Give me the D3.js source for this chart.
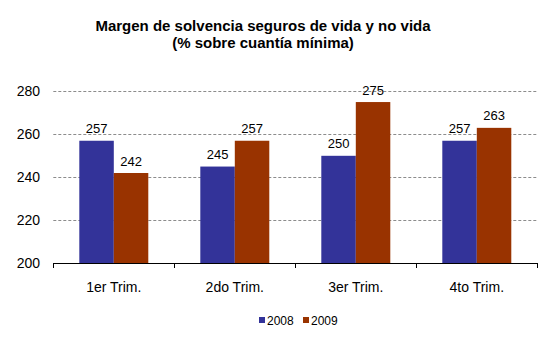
<!DOCTYPE html>
<html><head><meta charset="utf-8">
<script src="https://cdn.jsdelivr.net/npm/d3@7"></script>
<style>body{margin:0;background:#fff}svg{display:block;font-family:"Liberation Sans",Arial,sans-serif}</style>
</head><body><svg id="c" width="553" height="338"></svg>
<script>
const categories = ["1er Trim.", "2do Trim.", "3er Trim.", "4to Trim."];
const seriesNames = ["2008", "2009"];
const values2008 = [257, 245, 250, 257];
const values2009 = [242, 257, 275, 263];
const yTicks = [200, 220, 240, 260, 280];
const colors = ["#333399", "#993300"];

(function(){
const svg = d3.select("#c");
const mLeft = 53.3, mRight = 537.3, mTop = 91.3, mBottom = 263.3;
const x = d3.scaleBand().domain(categories).range([mLeft, mRight]).paddingInner(0).paddingOuter(0);
const y = d3.scaleLinear().domain([200, 280]).range([mBottom, mTop]);
const inner = d3.scaleBand().domain(seriesNames).range([0, x.bandwidth()]).paddingOuter(0.754).paddingInner(0);

// title
svg.append("text").attr("x", 263).attr("y", 31).attr("text-anchor", "middle")
  .attr("font-weight", "bold").attr("font-size", 15).text("Margen de solvencia seguros de vida y no vida");
svg.append("text").attr("x", 263).attr("y", 48).attr("text-anchor", "middle")
  .attr("font-weight", "bold").attr("font-size", 15).text("(% sobre cuantía mínima)");

// grid
svg.append("g").selectAll("line").data(yTicks.filter(d => d > 200)).join("line")
  .attr("x1", mLeft).attr("x2", mRight).attr("y1", d => Math.round(y(d)) + 0.5).attr("y2", d => Math.round(y(d)) + 0.5)
  .attr("stroke", "#8c8c8c").attr("stroke-dasharray", "3,2");

// y labels
svg.append("g").selectAll("text").data(yTicks).join("text")
  .attr("x", 40).attr("y", d => y(d) + 5).attr("text-anchor", "end").attr("font-size", 14).text(d => d);

// bars
const data = categories.map((c, i) => ({c, vals: [values2008[i], values2009[i]]}));
const g = svg.append("g").selectAll("g").data(data).join("g").attr("transform", d => `translate(${x(d.c)},0)`);
g.selectAll("rect").data(d => d.vals.map((v, j) => ({v, s: seriesNames[j], j}))).join("rect")
  .attr("x", d => inner(d.s)).attr("width", inner.bandwidth())
  .attr("y", d => y(d.v)).attr("height", d => mBottom - y(d.v)).attr("fill", d => colors[d.j]);
g.selectAll("text").data(d => d.vals.map((v, j) => ({v, s: seriesNames[j], j}))).join("text")
  .attr("x", d => inner(d.s) + inner.bandwidth() / 2).attr("y", d => y(d.v) - 7.5)
  .attr("text-anchor", "middle").attr("font-size", 13).text(d => d.v);

// x axis
const xAxis = svg.append("g");
xAxis.append("line").attr("x1", mLeft).attr("x2", mRight).attr("y1", Math.round(mBottom) + 0.5).attr("y2", Math.round(mBottom) + 0.5).attr("stroke", "#000");
const bounds = [mLeft].concat(categories.map(c => x(c) + x.bandwidth()));
xAxis.selectAll("line.t").data(bounds).join("line").attr("class", "t")
  .attr("x1", d => Math.round(d) + 0.5).attr("x2", d => Math.round(d) + 0.5)
  .attr("y1", Math.round(mBottom)).attr("y2", Math.round(mBottom) + 5).attr("stroke", "#000");
xAxis.selectAll("text").data(categories).join("text")
  .attr("x", d => x(d) + x.bandwidth() / 2).attr("y", 292).attr("text-anchor", "middle").attr("font-size", 14).text(d => d);

// legend
const leg = svg.append("g");
const legX = [259, 303];
seriesNames.forEach((s, i) => {
  leg.append("rect").attr("x", legX[i]).attr("y", 317).attr("width", 6).attr("height", 6).attr("fill", colors[i]);
  leg.append("text").attr("x", legX[i] + 8).attr("y", 325).attr("font-size", 12).text(s);
});
})();
</script></body></html>
